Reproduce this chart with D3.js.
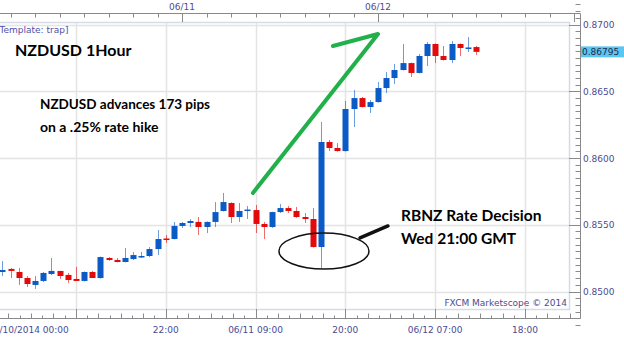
<!DOCTYPE html>
<html>
<head>
<meta charset="utf-8">
<script src="https://cdn.jsdelivr.net/npm/d3@7"></script>
<style>
  html, body { margin: 0; padding: 0; background: #fff; }
  svg { display: block; }
  .axis-label { font-family: "DejaVu Sans", sans-serif; font-size: 9px; fill: #4b4b94; }
  .note { font-family: Lato, "Liberation Sans", sans-serif; font-weight: bold; fill: #000; }
</style>
</head>
<body>
<div id="chart"></div>
<script>
//////////////////////
//  main constants  //
//////////////////////
const WIDTH = 624;
const HEIGHT = 338;
const PLOT = { LEFT: 0, RIGHT: 569, TOP: 22, BOTTOM: 309 };
const AXIS = { TOP: 13.5, RIGHT: 580.5, BOTTOM: 318.5 };
const CANDLE_W = 6;
const BLUE = "#0b5bc6";
const RED = "#e20a0a";

////////////
//  data  //
////////////
// NZDUSD hourly candles, first one opens 06/10/2014 02:00
const firstCandle = "2014-06-10T02:00:00Z";
const opens = [
  0.85146, 0.85169, 0.85146, 0.85101, 0.85049, 0.85079, 0.85131, 0.85154, 0.85124, 0.85094,
  0.85079, 0.85146, 0.85101, 0.85251, 0.85236, 0.85221, 0.85243, 0.85258, 0.85266, 0.85318,
  0.85397, 0.85393, 0.85491, 0.85513, 0.85521, 0.85483, 0.85521, 0.85603, 0.85663, 0.85558,
  0.85607, 0.85610, 0.85506, 0.85483, 0.85595, 0.85625, 0.85603, 0.85558, 0.85543, 0.85333,
  0.86120, 0.86075, 0.86052, 0.86367, 0.86449, 0.86382, 0.86419, 0.86524, 0.86599, 0.86659,
  0.86711, 0.86637, 0.86764, 0.86854, 0.86764, 0.86734, 0.86854, 0.86820, 0.86831
];
const highs = [
  0.85228, 0.85176, 0.85176, 0.85116, 0.85116, 0.85146, 0.85251, 0.85154, 0.85139, 0.85184,
  0.85150, 0.85154, 0.85262, 0.85258, 0.85251, 0.85326, 0.85296, 0.85296, 0.85333, 0.85461,
  0.85423, 0.85521, 0.85521, 0.85543, 0.85558, 0.85525, 0.85670, 0.85738, 0.85668, 0.85663,
  0.85640, 0.85648, 0.85521, 0.85598, 0.85655, 0.85640, 0.85633, 0.85588, 0.85625, 0.86270,
  0.86135, 0.86112, 0.86427, 0.86509, 0.86457, 0.86434, 0.86569, 0.86644, 0.86704, 0.86854,
  0.86715, 0.86779, 0.86869, 0.86858, 0.86839, 0.86876, 0.86858, 0.86906, 0.86839
];
const lows = [
  0.85116, 0.85101, 0.85049, 0.85034, 0.85019, 0.85071, 0.85124, 0.85094, 0.85064, 0.85079,
  0.85075, 0.85101, 0.85096, 0.85230, 0.85218, 0.85218, 0.85236, 0.85251, 0.85258, 0.85273,
  0.85363, 0.85390, 0.85476, 0.85483, 0.85423, 0.85438, 0.85483, 0.85600, 0.85513, 0.85521,
  0.85543, 0.85438, 0.85393, 0.85476, 0.85588, 0.85588, 0.85551, 0.85513, 0.85330, 0.85176,
  0.86052, 0.86048, 0.86048, 0.86232, 0.86378, 0.86337, 0.86415, 0.86487, 0.86554, 0.86655,
  0.86607, 0.86633, 0.86689, 0.86711, 0.86730, 0.86711, 0.86764, 0.86794, 0.86771
];
const closes = [
  0.85161, 0.85154, 0.85101, 0.85056, 0.85079, 0.85139, 0.85154, 0.85116, 0.85086, 0.85079,
  0.85146, 0.85101, 0.85258, 0.85236, 0.85221, 0.85251, 0.85273, 0.85266, 0.85318, 0.85393,
  0.85389, 0.85491, 0.85513, 0.85528, 0.85483, 0.85521, 0.85595, 0.85670, 0.85558, 0.85603,
  0.85614, 0.85506, 0.85483, 0.85595, 0.85625, 0.85603, 0.85558, 0.85543, 0.85333, 0.86120,
  0.86075, 0.86052, 0.86367, 0.86449, 0.86382, 0.86419, 0.86524, 0.86599, 0.86659, 0.86711,
  0.86637, 0.86764, 0.86854, 0.86764, 0.86734, 0.86854, 0.86824, 0.86828, 0.86795
];
const lastPrice = 0.86795;

const priceTicks = [0.8500, 0.8550, 0.8600, 0.8650, 0.8700];
const bottomTicks = ["2014-06-10T00:00Z", "2014-06-10T11:00Z", "2014-06-10T22:00Z", "2014-06-11T09:00Z",
                     "2014-06-11T20:00Z", "2014-06-12T07:00Z", "2014-06-12T18:00Z"];
const bottomLabels = ["06/10/2014 00:00", "", "22:00", "06/11 09:00", "20:00", "06/12 07:00", "18:00"];
const topTicks = ["2014-06-11T00:00Z", "2014-06-12T00:00Z", "2014-06-13T00:00Z"];
const topLabels = ["06/11", "06/12", ""];

// hand-drawn annotations, in [time, price]
const greenArrow = [["2014-06-11T08:41Z", 0.85738], ["2014-06-12T00:00Z", 0.86929], ["2014-06-11T18:29Z", 0.86839]];
const pointer = [["2014-06-11T21:48Z", 0.85401], ["2014-06-12T01:13Z", 0.85491]];
const ellipseCenter = ["2014-06-11T17:23Z", 0.85303];

//////////////
//  scales  //
//////////////
const x = d3.scaleUtc()
  .domain([new Date("2014-06-11T00:00Z"), new Date("2014-06-12T00:00Z")])
  .range([182, 378]);
const y = d3.scaleLinear().domain([0.85, 0.87]).range([291.5, 24.5]);

const candles = opens.map((o, i) => ({
  t: d3.utcHour.offset(new Date(firstCandle), i),
  o: o, h: highs[i], l: lows[i], c: closes[i]
}));

///////////
//  svg  //
///////////
const svg = d3.select("#chart").append("svg")
  .attr("width", WIDTH)
  .attr("height", HEIGHT);

svg.append("defs").append("clipPath").attr("id", "plot-clip")
  .append("rect")
  .attr("x", PLOT.LEFT).attr("y", PLOT.TOP)
  .attr("width", PLOT.RIGHT - PLOT.LEFT).attr("height", PLOT.BOTTOM - PLOT.TOP);

// grid
const grid = svg.append("g").attr("clip-path", "url(#plot-clip)");
grid.selectAll(".hgrid").data(priceTicks).join("line")
  .attr("x1", PLOT.LEFT).attr("x2", PLOT.RIGHT)
  .attr("y1", d => Math.round(y(d)) + 0.5).attr("y2", d => Math.round(y(d)) + 0.5)
  .attr("stroke", "#e4e4e4").attr("stroke-width", 1.5);
grid.selectAll(".vgrid").data(bottomTicks).join("line")
  .attr("x1", d => Math.round(x(new Date(d))) + 0.5).attr("x2", d => Math.round(x(new Date(d))) + 0.5)
  .attr("y1", PLOT.TOP).attr("y2", PLOT.BOTTOM)
  .attr("stroke", "#e4e4e4").attr("stroke-width", 1.5);

// plot border
svg.append("path")
  .attr("d", `M${PLOT.LEFT},${PLOT.TOP + 0.5}H${PLOT.RIGHT + 0.5}V${PLOT.BOTTOM + 0.5}H${PLOT.LEFT}`)
  .attr("fill", "none").attr("stroke", "#d6dce6").attr("stroke-width", 1.5);

// candles
const cg = svg.append("g").attr("clip-path", "url(#plot-clip)");
const candle = cg.selectAll("g.candle").data(candles).join("g")
  .attr("transform", d => `translate(${Math.round(x(d.t)) + 0.5},0)`);
candle.append("line")
  .attr("y1", d => y(d.h)).attr("y2", d => y(d.l))
  .attr("stroke", d => d.c >= d.o ? BLUE : RED)
  .attr("stroke-opacity", 0.6);
candle.append("rect")
  .attr("x", -CANDLE_W / 2)
  .attr("y", d => y(Math.max(d.o, d.c)))
  .attr("width", CANDLE_W)
  .attr("height", d => Math.max(1.5, Math.abs(y(d.o) - y(d.c))))
  .attr("fill", d => d.c >= d.o ? BLUE : RED);

////////////
//  axes  //
////////////
const axisG = svg.append("g").attr("stroke", "#8a8a8a").attr("fill", "none");
axisG.append("path")
  .attr("d", `M0,${AXIS.TOP}H${AXIS.RIGHT}V${AXIS.BOTTOM}H0`);

// top axis: ticks every 3 hours, tall at midnight
const topAll = d3.utcHour.every(3).range(new Date("2014-06-10T00:00Z"), new Date("2014-06-13T01:00Z"));
axisG.selectAll(".ttick").data(topAll).join("line")
  .attr("x1", d => Math.round(x(d)) + 0.5).attr("x2", d => Math.round(x(d)) + 0.5)
  .attr("y1", AXIS.TOP)
  .attr("y2", d => d.getUTCHours() === 0 ? PLOT.TOP : AXIS.TOP + 4);
svg.selectAll(".tlabel").data(topTicks).join("text")
  .attr("class", "axis-label")
  .attr("x", d => x(new Date(d)))
  .attr("y", 10)
  .attr("text-anchor", "middle")
  .text((d, i) => topLabels[i]);

// bottom axis: majors every 11 hours, 8 minor steps between
const bMajors = bottomTicks.map(d => new Date(d));
const bMinors = [];
bMajors.forEach(d => {
  for (let k = 1; k < 8; k++) bMinors.push({ t: new Date(+d + k * 11 * 3600000 / 8), k: k });
});
axisG.selectAll(".bmajor").data(bMajors).join("line")
  .attr("x1", d => Math.round(x(d)) + 0.5).attr("x2", d => Math.round(x(d)) + 0.5)
  .attr("y1", PLOT.BOTTOM).attr("y2", AXIS.BOTTOM);
axisG.selectAll(".bminor").data(bMinors.filter(d => x(d.t) < AXIS.RIGHT - 2)).join("line")
  .attr("x1", d => Math.round(x(d.t)) + 0.5).attr("x2", d => Math.round(x(d.t)) + 0.5)
  .attr("y1", d => AXIS.BOTTOM - (d.k % 2 ? 3 : 5)).attr("y2", AXIS.BOTTOM);
svg.selectAll(".blabel").data(bMajors).join("text")
  .attr("class", "axis-label")
  .attr("x", (d, i) => i === 0 ? x(d) + 2 : x(d))
  .attr("y", 333)
  .attr("text-anchor", (d, i) => i === 0 ? "start" : "middle")
  .text((d, i) => bottomLabels[i]);

// right axis: majors every 0.0050, minors every 0.0005
const rMinors = d3.range(0.8475, 0.87151, 0.0005);
axisG.selectAll(".rminor").data(rMinors).join("line")
  .attr("x1", AXIS.RIGHT - 5).attr("x2", AXIS.RIGHT)
  .attr("y1", d => Math.round(y(d)) + 0.5).attr("y2", d => Math.round(y(d)) + 0.5);
axisG.selectAll(".rmajor").data(priceTicks).join("line")
  .attr("x1", PLOT.RIGHT).attr("x2", AXIS.RIGHT)
  .attr("y1", d => Math.round(y(d)) + 0.5).attr("y2", d => Math.round(y(d)) + 0.5);
svg.selectAll(".rlabel").data(priceTicks).join("text")
  .attr("class", "axis-label")
  .attr("x", 583)
  .attr("y", d => y(d) + 3.5)
  .text(d => d3.format(".4f")(d));

// last price marker
svg.append("rect")
  .attr("x", 581).attr("y", y(lastPrice) - 5.5)
  .attr("width", 43).attr("height", 11)
  .attr("fill", "#5cc6f2");
svg.append("text")
  .attr("class", "axis-label")
  .attr("x", 582)
  .attr("y", y(lastPrice) + 3.5)
  .style("fill", "#1b2b4b")
  .text(d3.format(".5f")(lastPrice));

///////////////////
//  annotations  //
///////////////////
const pt = d => [x(new Date(d[0])), y(d[1])];

svg.append("path")
  .attr("d", d3.line()(greenArrow.map(pt)))
  .attr("fill", "none")
  .attr("stroke", "#22b04b").attr("stroke-width", 4)
  .attr("stroke-linecap", "round").attr("stroke-linejoin", "round");

svg.append("path")
  .attr("d", d3.line()(pointer.map(pt)))
  .attr("stroke", "#111").attr("stroke-width", 3.5)
  .attr("stroke-linecap", "round");

const ec = pt(ellipseCenter);
svg.append("ellipse")
  .attr("cx", ec[0]).attr("cy", ec[1])
  .attr("rx", 45).attr("ry", 18)
  .attr("fill", "none").attr("stroke", "#111").attr("stroke-width", 1.5);

const notes = [
  { text: "NZDUSD 1Hour", x: 15, y: 56, size: 16 },
  { text: "NZDUSD advances 173 pips", x: 40, y: 109, size: 13.5 },
  { text: "on a .25% rate hike", x: 40, y: 132, size: 14 },
  { text: "RBNZ Rate Decision", x: 401, y: 221, size: 15.5 },
  { text: "Wed 21:00 GMT", x: 401, y: 244, size: 15.5 }
];
svg.selectAll(".note").data(notes).join("text")
  .attr("class", "note")
  .attr("x", d => d.x).attr("y", d => d.y)
  .attr("font-size", d => d.size)
  .text(d => d.text);

svg.append("text")
  .attr("class", "axis-label")
  .attr("x", -4).attr("y", 33)
  .style("fill", "#5050a8")
  .text("[Template: trap]");

svg.append("text")
  .attr("class", "axis-label")
  .attr("x", 567).attr("y", 306)
  .attr("text-anchor", "end")
  .text("FXCM Marketscope \u00a9 2014");
</script>
</body>
</html>
